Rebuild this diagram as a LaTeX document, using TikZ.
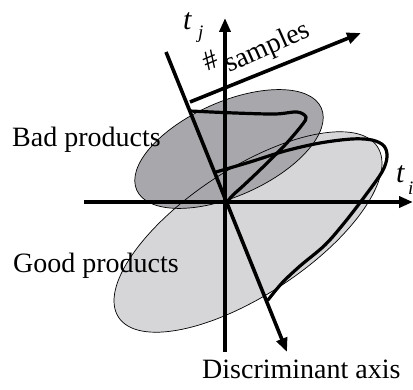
\documentclass[tikz,border=0pt]{standalone}
\usepackage{fontspec}
\setmainfont{Liberation Serif}
\usetikzlibrary{arrows.meta}
\definecolor{darkfill}{RGB}{168,168,172}
\definecolor{lightfill}{RGB}{214,214,217}
\begin{document}
\begin{tikzpicture}[x=1pt,y=-1pt,
  axisline/.style={line width=3.6pt,line cap=butt},
  axisarrow/.style={axisline,-{Triangle[length=14pt,width=11pt]}},
  curveline/.style={line width=3.2pt,line join=round,line cap=round},
  outline/.style={line width=0.7pt},
  lbl/.style={font=\fontsize{28}{30}\selectfont,inner sep=0pt},
  sublbl/.style={font=\fontsize{19}{20}\selectfont\itshape,inner sep=0pt}]
\useasboundingbox (0,0) rectangle (413,390);
% ellipses
\fill[lightfill, rotate around={33.4:(248,232)}] (248,232) ellipse [x radius=155, y radius=63];
\fill[darkfill, rotate around={24:(229,149)}] (229,149) ellipse [x radius=101, y radius=47];
\draw[outline, rotate around={33.4:(248,232)}] (248,232) ellipse [x radius=155, y radius=63];
\draw[outline, rotate around={24:(229,149)}] (229,149) ellipse [x radius=101, y radius=47];
% coordinates
\coordinate (O) at (225,202);
\coordinate (hl) at (84,202);
\coordinate (hr) at (413,202);
\coordinate (vb) at (225,352);
\coordinate (vt) at (225,18);
\coordinate (dt) at (166,52);
\coordinate (db) at (287,352);
\coordinate (ss) at (190,102);
\coordinate (se) at (361,33);
% axes
\draw[axisarrow] (hl) -- (hr);
\draw[axisarrow] (vb) -- (vt);
\draw[axisarrow] (dt) -- (db);
\draw[axisarrow] (ss) -- (se);
% distributions
\draw[curveline] plot[smooth, tension=0.55] coordinates {(190,111) (235,113) (275,114) (297,112) (306,117) (302,125) (285,145) (262,168) (243,186) (233,195) (227,202)};
\draw[curveline] plot[smooth, tension=0.55] coordinates {(216,172) (250,162) (285,151) (320,143) (352,139) (372,140) (384,146) (387,157) (382,172) (365,196) (345,222) (325,245) (300,266) (282,283) (268,300)};
% labels
\node[lbl, anchor=base west] (bad) at (12,147) {Bad products};
\node[lbl, anchor=base west] (good) at (13,273) {Good products};
\node[lbl, anchor=base west] (disc) at (202,379) {Discriminant axis};
\node[lbl, anchor=base west, rotate=23] (hash) at (207,72) {\#};
\node[lbl, anchor=base west, rotate=24] (samp) at (229,73) {samples};
\node[lbl, anchor=base west, font=\fontsize{30}{30}\selectfont\itshape] (tj) at (183,30) {t};
\node[sublbl, anchor=base west] (j) at (198,39) {j};
\node[lbl, anchor=base west, font=\fontsize{30}{30}\selectfont\itshape] (ti) at (396,183) {t};
\node[sublbl, anchor=base west] (i) at (408,195) {i};
\end{tikzpicture}
\end{document}
